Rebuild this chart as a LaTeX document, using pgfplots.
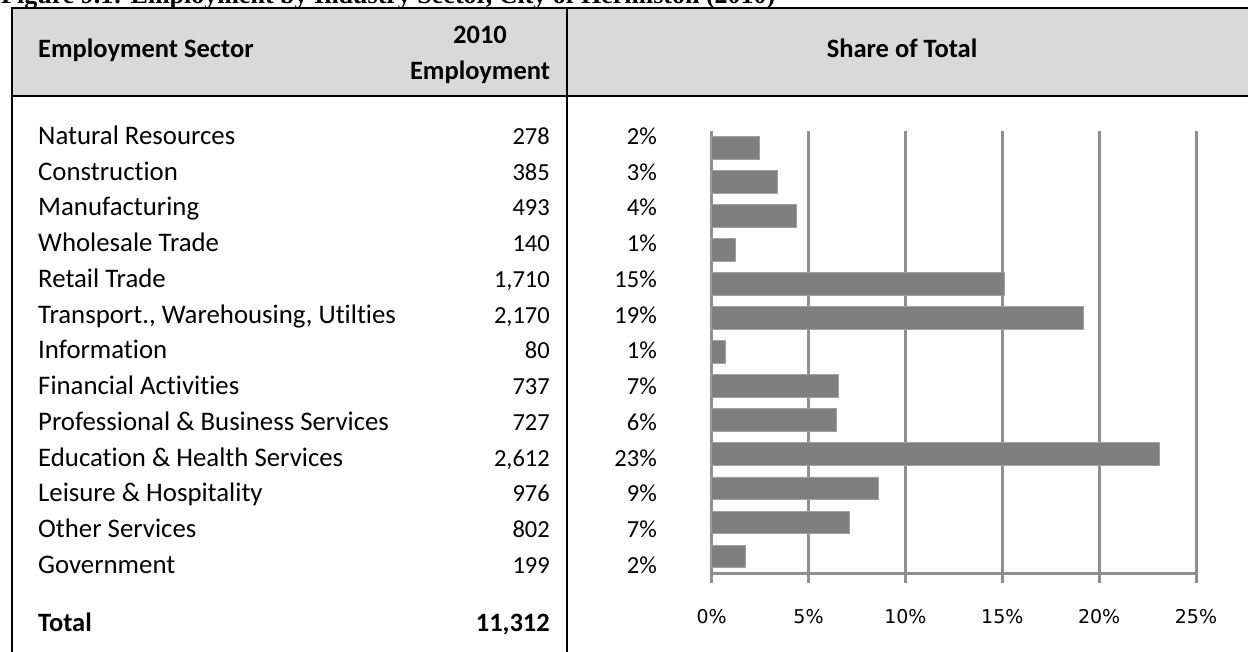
\documentclass[border=0pt]{standalone}
\usepackage{fontspec}
\setmainfont{Carlito}[Ligatures=NoCommon]
\newfontfamily\titlefont{Liberation Serif}
\newfontfamily\tickfont{DejaVu Sans}
\usepackage{pgfplots}
\usepackage{pgfplotstable}
\pgfplotsset{compat=1.18}
\definecolor{hdrfill}{HTML}{D9D9D9}
\definecolor{gridgray}{HTML}{8F8F8F}
\definecolor{barfill}{HTML}{7F7F7F}
\definecolor{baredge}{HTML}{A0A0A0}
\pgfplotstableread{
idx share
0 2.458
1 3.403
2 4.358
3 1.238
4 15.117
5 19.183
6 0.707
7 6.515
8 6.427
9 23.090
10 8.628
11 7.090
12 1.759
}\sharetable
\begin{document}
\begin{tikzpicture}
\path[use as bounding box] (0pt,0pt) rectangle (1248pt,-651pt);
\clip (0pt,0pt) rectangle (1248pt,-651pt);
\begin{scope}[x=1pt,y=-1pt]
% title (cut off at top, as in the source)
\node[anchor=base west, inner sep=0] at (1,3) {\titlefont\bfseries\fontsize{26}{30}\selectfont Figure 9.1: Employment by Industry Sector, City of Hermiston (2010)};
% header
\fill[hdrfill] (12,8) rectangle (1260,96);
\draw[line width=2pt] (1260,8) -- (12,8) -- (12,660);
\draw[line width=2pt] (12,96) -- (1260,96);
\draw[line width=2pt] (567,8) -- (567,660);
\node[anchor=base west, inner sep=0] at (38,57.5) {\bfseries\fontsize{26.5}{30}\selectfont Employment Sector};
\node[anchor=base, inner sep=0] at (480,43) {\bfseries\fontsize{26.5}{30}\selectfont 2010};
\node[anchor=base, inner sep=0] at (480,79) {\bfseries\fontsize{26.5}{30}\selectfont Employment};
\node[anchor=base, inner sep=0] at (902,57.5) {\bfseries\fontsize{26.5}{30}\selectfont Share of Total};
% rows
\foreach \n/\v/\p [count=\i from 0] in {
 {Natural Resources}/{278}/2,
 {Construction}/{385}/3,
 {Manufacturing}/{493}/4,
 {Wholesale Trade}/{140}/1,
 {Retail Trade}/{1,710}/15,
 {Transport., Warehousing, Utilties}/{2,170}/19,
 {Information}/{80}/1,
 {Financial Activities}/{737}/7,
 {Professional \& Business Services}/{727}/6,
 {Education \& Health Services}/{2,612}/23,
 {Leisure \& Hospitality}/{976}/9,
 {Other Services}/{802}/7,
 {Government}/{199}/2}{
  \node[anchor=base west, inner sep=0] at (38,{144.3+35.75*\i}) {\fontsize{26.8}{30}\selectfont \n};
  \node[anchor=base east, inner sep=0] at (550,{144.3+35.75*\i}) {\fontsize{24.5}{30}\selectfont \v};
  \node[anchor=base east, inner sep=0] at (657,{144.3+35.75*\i}) {\fontsize{24.5}{30}\selectfont \p\%};
}
\node[anchor=base west, inner sep=0] at (38,631) {\bfseries\fontsize{26.5}{30}\selectfont Total};
\node[anchor=base east, inner sep=0] at (550,631) {\bfseries\fontsize{26.5}{30}\selectfont 11,312};
\end{scope}
\begin{axis}[
  at={(711.7pt,-573.5pt)}, anchor=south west,
  scale only axis, width=484.3pt, height=443pt,
  xmin=0, xmax=25, ymin=-0.5, ymax=12.5, y dir=reverse,
  xbar, bar width=22.7pt,
  axis x line*=bottom, axis y line*=left,
  ytick=\empty,
  xtick={0,5,10,15,20,25},
  xticklabels={0\%,5\%,10\%,15\%,20\%,25\%},
  xmajorgrids,
  major grid style={line width=3pt, color=gridgray},
  axis line style={line width=3pt, color=gridgray, -},
  xtick align=outside, major tick length=9pt,
  tick style={line width=3pt, color=gridgray},
  xticklabel style={font=\tickfont\fontsize{19}{22}\selectfont, anchor=base, yshift=-40.5pt, inner sep=0pt},
  clip=false,
]
\addplot[draw=baredge, fill=barfill, line width=0.8pt] table[x=share, y=idx] {\sharetable};
\end{axis}
\end{tikzpicture}
\end{document}
